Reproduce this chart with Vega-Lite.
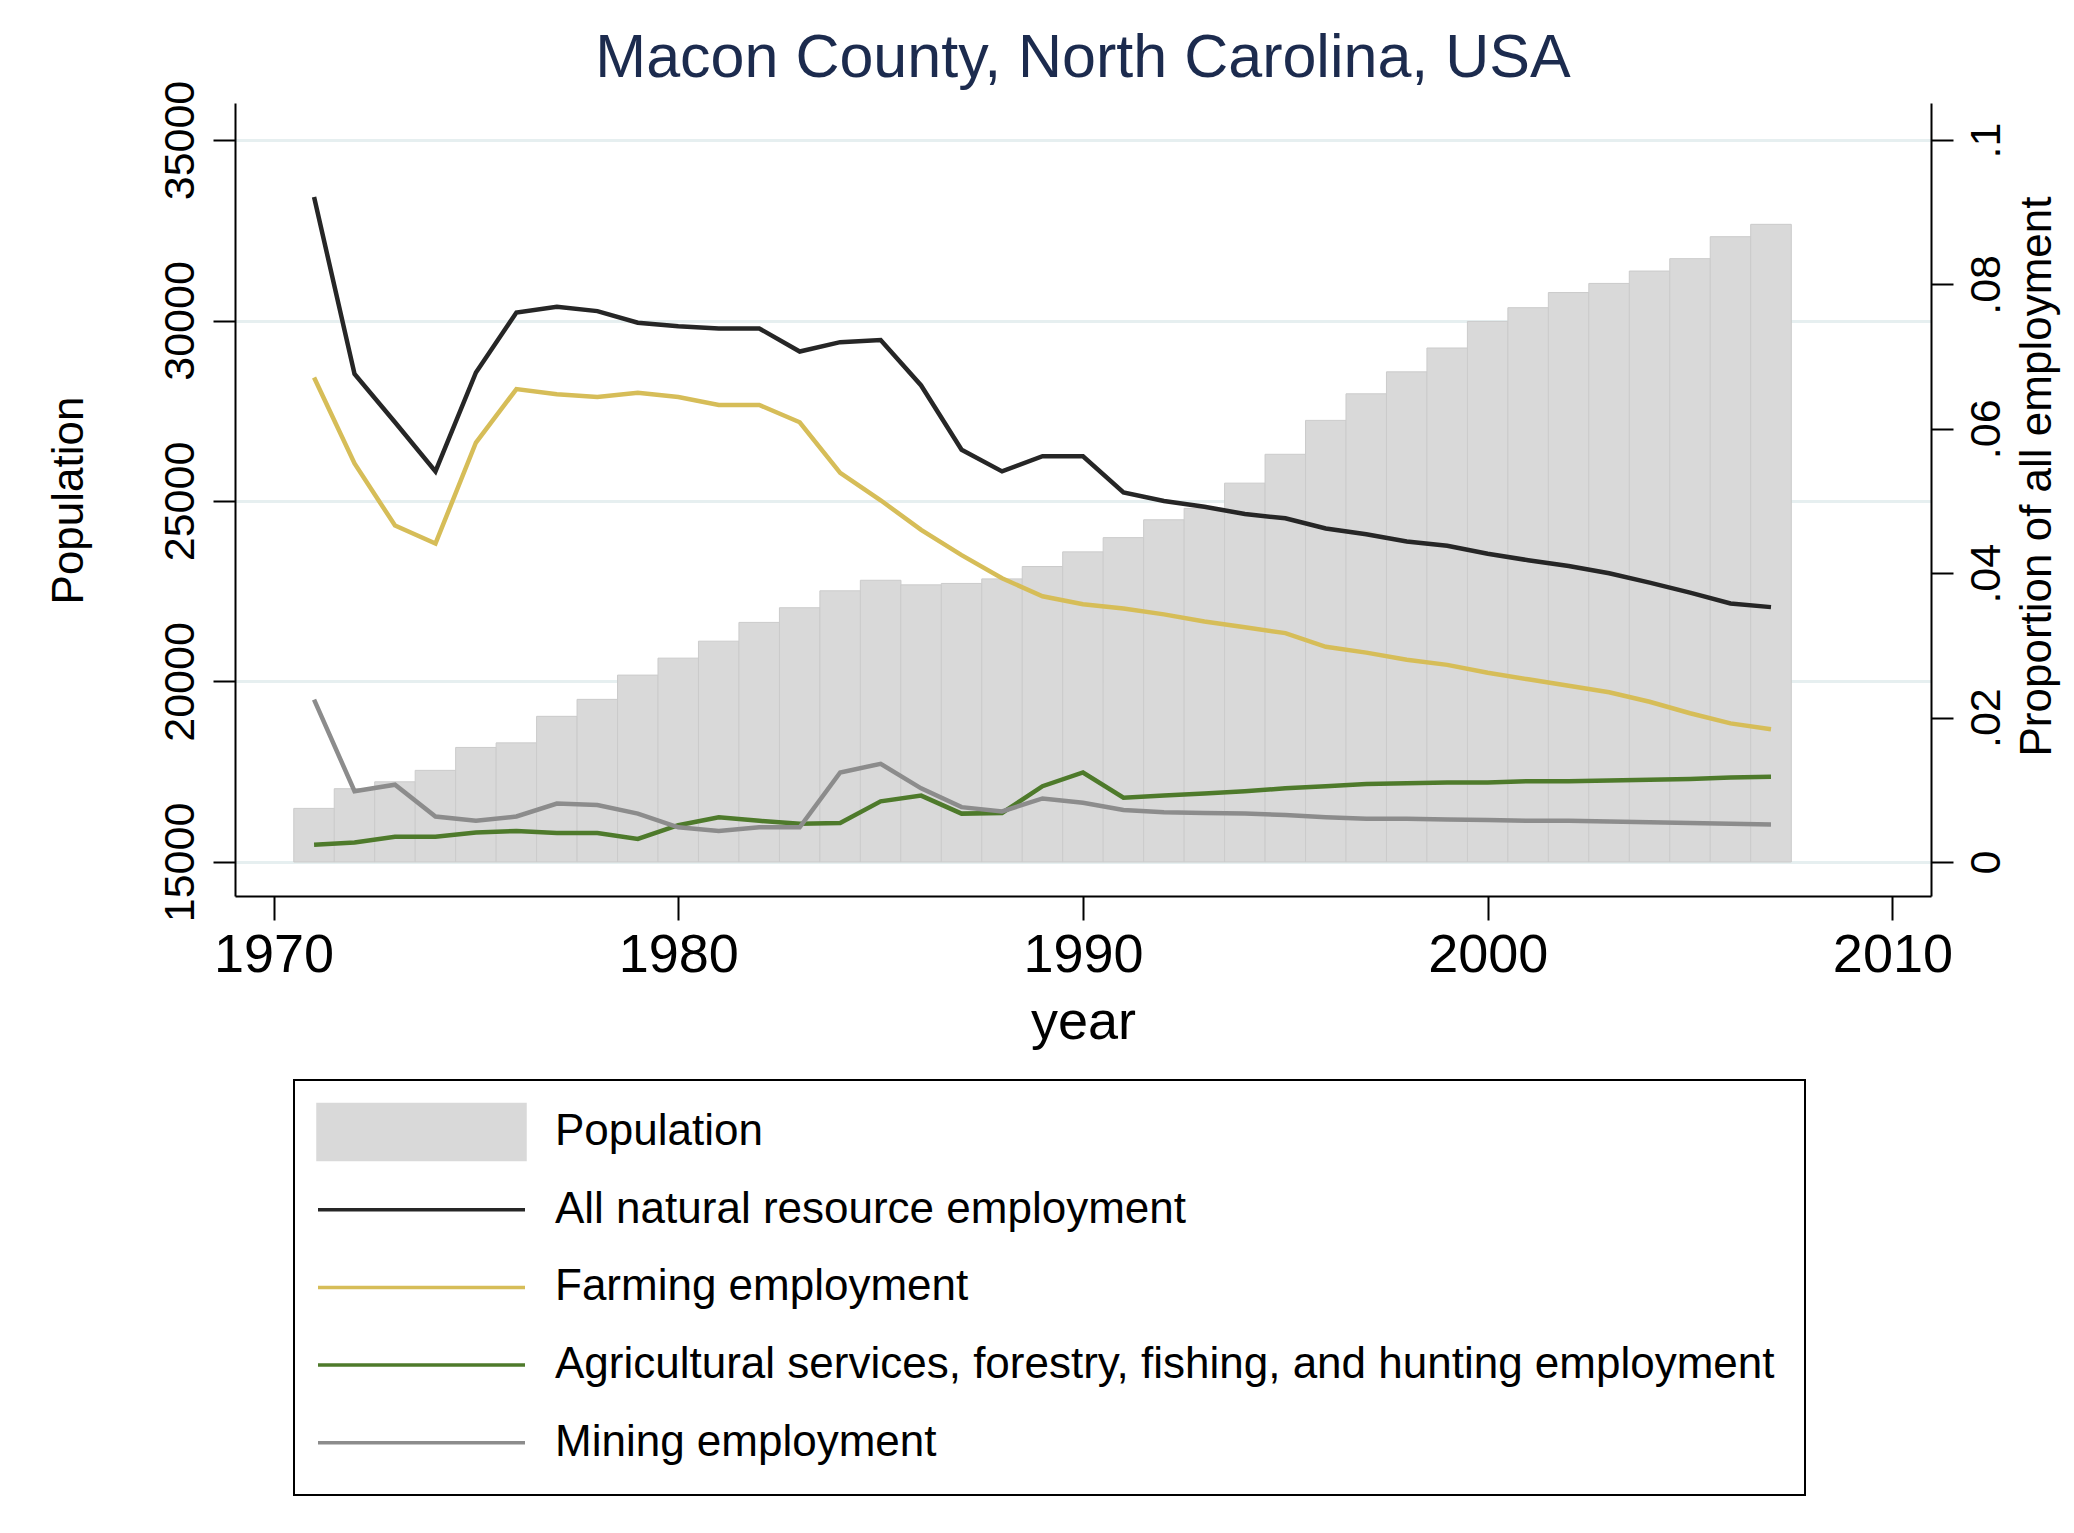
{
  "$schema": "https://vega.github.io/schema/vega-lite/v6.json",
  "autosize": {"type": "none"},
  "padding": {"left": 235, "top": 103, "right": 143, "bottom": 637},
  "width": 1696,
  "height": 793,
  "background": "white",
  "title": {
    "text": "Macon County, North Carolina, USA",
    "font": "Liberation Sans",
    "fontSize": 61,
    "fontWeight": "normal",
    "color": "#1c2b4e",
    "anchor": "middle",
    "frame": "group",
    "baseline": "alphabetic",
    "offset": 2,
    "dy": 60
  },
  "data": {
    "values": [
      {"year": 1971, "pop": 16485, "all": 0.0921, "farm": 0.0671, "ag": 0.0024, "mine": 0.0225},
      {"year": 1972, "pop": 17030, "all": 0.0676, "farm": 0.0552, "ag": 0.0027, "mine": 0.0098},
      {"year": 1973, "pop": 17221, "all": 0.0609, "farm": 0.0466, "ag": 0.0035, "mine": 0.0107},
      {"year": 1974, "pop": 17538, "all": 0.0541, "farm": 0.0441, "ag": 0.0035, "mine": 0.0063},
      {"year": 1975, "pop": 18173, "all": 0.0678, "farm": 0.0581, "ag": 0.0041, "mine": 0.0057},
      {"year": 1976, "pop": 18300, "all": 0.0761, "farm": 0.0655, "ag": 0.0043, "mine": 0.0063},
      {"year": 1977, "pop": 19035, "all": 0.0769, "farm": 0.0648, "ag": 0.0040, "mine": 0.0081},
      {"year": 1978, "pop": 19505, "all": 0.0763, "farm": 0.0644, "ag": 0.0040, "mine": 0.0079},
      {"year": 1979, "pop": 20177, "all": 0.0747, "farm": 0.0650, "ag": 0.0032, "mine": 0.0067},
      {"year": 1980, "pop": 20647, "all": 0.0742, "farm": 0.0644, "ag": 0.0051, "mine": 0.0048},
      {"year": 1981, "pop": 21117, "all": 0.0739, "farm": 0.0633, "ag": 0.0062, "mine": 0.0043},
      {"year": 1982, "pop": 21637, "all": 0.0739, "farm": 0.0633, "ag": 0.0057, "mine": 0.0048},
      {"year": 1983, "pop": 22043, "all": 0.0707, "farm": 0.0609, "ag": 0.0053, "mine": 0.0048},
      {"year": 1984, "pop": 22512, "all": 0.0720, "farm": 0.0539, "ag": 0.0054, "mine": 0.0124},
      {"year": 1985, "pop": 22804, "all": 0.0723, "farm": 0.0501, "ag": 0.0084, "mine": 0.0136},
      {"year": 1986, "pop": 22677, "all": 0.0660, "farm": 0.0460, "ag": 0.0092, "mine": 0.0102},
      {"year": 1987, "pop": 22716, "all": 0.0571, "farm": 0.0425, "ag": 0.0067, "mine": 0.0076},
      {"year": 1988, "pop": 22842, "all": 0.0541, "farm": 0.0393, "ag": 0.0068, "mine": 0.0070},
      {"year": 1989, "pop": 23185, "all": 0.0562, "farm": 0.0368, "ag": 0.0105, "mine": 0.0088},
      {"year": 1990, "pop": 23591, "all": 0.0562, "farm": 0.0357, "ag": 0.0124, "mine": 0.0082},
      {"year": 1991, "pop": 23985, "all": 0.0512, "farm": 0.0351, "ag": 0.0089, "mine": 0.0072},
      {"year": 1992, "pop": 24479, "all": 0.0500, "farm": 0.0343, "ag": 0.0092, "mine": 0.0069},
      {"year": 1993, "pop": 24797, "all": 0.0492, "farm": 0.0333, "ag": 0.0095, "mine": 0.0068},
      {"year": 1994, "pop": 25495, "all": 0.0482, "farm": 0.0325, "ag": 0.0098, "mine": 0.0067},
      {"year": 1995, "pop": 26294, "all": 0.0476, "farm": 0.0317, "ag": 0.0102, "mine": 0.0065},
      {"year": 1996, "pop": 27233, "all": 0.0462, "farm": 0.0298, "ag": 0.0105, "mine": 0.0062},
      {"year": 1997, "pop": 27969, "all": 0.0454, "farm": 0.0290, "ag": 0.0108, "mine": 0.0060},
      {"year": 1998, "pop": 28578, "all": 0.0444, "farm": 0.0280, "ag": 0.0109, "mine": 0.0060},
      {"year": 1999, "pop": 29238, "all": 0.0438, "farm": 0.0273, "ag": 0.0110, "mine": 0.0059},
      {"year": 2000, "pop": 29974, "all": 0.0427, "farm": 0.0262, "ag": 0.0110, "mine": 0.0058},
      {"year": 2001, "pop": 30355, "all": 0.0418, "farm": 0.0253, "ag": 0.0112, "mine": 0.0057},
      {"year": 2002, "pop": 30774, "all": 0.0410, "farm": 0.0244, "ag": 0.0112, "mine": 0.0057},
      {"year": 2003, "pop": 31027, "all": 0.0400, "farm": 0.0235, "ag": 0.0113, "mine": 0.0056},
      {"year": 2004, "pop": 31370, "all": 0.0387, "farm": 0.0222, "ag": 0.0114, "mine": 0.0055},
      {"year": 2005, "pop": 31713, "all": 0.0373, "farm": 0.0206, "ag": 0.0115, "mine": 0.0054},
      {"year": 2006, "pop": 32322, "all": 0.0358, "farm": 0.0192, "ag": 0.0117, "mine": 0.0053},
      {"year": 2007, "pop": 32664, "all": 0.0353, "farm": 0.0184, "ag": 0.0118, "mine": 0.0052}
    ]
  },
  "layer": [
    {
      "mark": {"type": "bar", "width": 40.6, "fill": "#d9d9d9", "stroke": "#cbcbcb", "strokeWidth": 1},
      "encoding": {
        "x": {
          "field": "year",
          "type": "quantitative",
          "scale": {"domain": [1969.17, 2010.83], "nice": false, "zero": false},
          "axis": {
            "values": [1970, 1980, 1990, 2000, 2010],
            "format": "d",
            "labelFontSize": 54,
            "labelBaseline": "top",
            "labelPadding": 8,
            "tickSize": 24,
            "title": "year",
            "titleFontSize": 54,
            "titleBaseline": "alphabetic",
            "titleY": 142
          }
        },
        "y": {
          "field": "pop",
          "type": "quantitative",
          "scale": {"domain": [14058, 36025], "nice": false, "zero": false},
          "axis": {
            "orient": "left",
            "values": [15000, 20000, 25000, 30000, 35000],
            "format": "d",
            "grid": true,
            "gridColor": "#e6eff0",
            "gridWidth": 3,
            "labelAngle": 270,
            "labelAlign": "center",
            "labelBaseline": "alphabetic",
            "labelPadding": 20,
            "labelFontSize": 43,
            "tickSize": 22,
            "title": "Population",
            "titleFontSize": 44,
            "titleAngle": 270,
            "titleAlign": "center",
            "titleBaseline": "alphabetic",
            "titleX": -153,
            "titleY": 397
          }
        },
        "y2": {"datum": 15000},
        "color": {
          "datum": "pop",
          "scale": {
            "domain": ["pop", "all", "farm", "ag", "mine"],
            "range": ["#d9d9d9", "#262626", "#d6bd58", "#4e7a2b", "#8c8c8c"]
          }
        }
      }
    },
    {
      "transform": [
        {"fold": ["all", "farm", "ag", "mine"], "as": ["series", "share"]}
      ],
      "mark": {"type": "line", "strokeWidth": 4.5},
      "encoding": {
        "x": {"field": "year", "type": "quantitative"},
        "y": {
          "field": "share",
          "type": "quantitative",
          "scale": {"domain": [-0.00471, 0.105125], "nice": false, "zero": false},
          "axis": {
            "orient": "right",
            "values": [0, 0.02, 0.04, 0.06, 0.08, 0.1],
            "labelExpr": "datum.value == 0 ? '0' : replace(format(datum.value, '.2~f'), '0.', '.')",
            "grid": false,
            "labelAngle": 270,
            "labelAlign": "center",
            "labelBaseline": "top",
            "labelPadding": 12,
            "labelFontSize": 43,
            "tickSize": 22,
            "title": "Proportion of all employment",
            "titleFontSize": 44,
            "titleAngle": 270,
            "titleAlign": "center",
            "titleBaseline": "alphabetic",
            "titleX": 119,
            "titleY": 373
          }
        },
        "color": {
          "field": "series",
          "type": "nominal",
          "scale": {
            "domain": ["pop", "all", "farm", "ag", "mine"],
            "range": ["#d9d9d9", "#262626", "#d6bd58", "#4e7a2b", "#8c8c8c"]
          },
          "legend": {
            "orient": "none",
            "legendX": 59,
            "legendY": 977,
            "direction": "vertical",
            "title": null,
            "values": ["pop", "all", "farm", "ag", "mine"],
            "labelExpr": "datum.value == 'pop' ? 'Population' : datum.value == 'all' ? 'All natural resource employment' : datum.value == 'farm' ? 'Farming employment' : datum.value == 'ag' ? 'Agricultural services, forestry, fishing, and hunting employment\u00a0\u00a0\u00a0\u00a0\u00a0' : 'Mining employment'",
            "symbolType": "stroke",
            "symbolSize": 100,
            "symbolStrokeWidth": 3.5,
            "symbolOffset": 75.5,
            "labelFontSize": 44,
            "labelColor": "#000000",
            "labelOffset": 111.5,
            "labelLimit": 0,
            "labelBaseline": "middle",
            "padding": 30,
            "rowPadding": 20.7,
            "gridAlign": "all",
            "strokeColor": "#000000",
            "encode": {
              "legend": {"update": {"strokeWidth": {"value": 2}}},
              "symbols": {
                "update": {
                  "shape": {"signal": "datum.value == 'pop' ? 'M-20.7,-5.5H20.7V5.5H-20.7Z' : 'M-20.7,0H20.7'"},
                  "size": {"value": 100},
                  "fill": {"signal": "datum.value == 'pop' ? '#d9d9d9' : 'transparent'"},
                  "stroke": {"signal": "datum.value == 'pop' ? 'transparent' : scale('color', datum.value)"},
                  "strokeWidth": {"value": 3.5},
                  "opacity": {"value": 1}
                }
              }
            }
          }
        }
      }
    }
  ],
  "resolve": {"scale": {"y": "independent"}, "axis": {"y": "independent"}},
  "config": {
    "font": "Liberation Sans",
    "view": {"stroke": null},
    "axis": {
      "grid": false,
      "domainColor": "#000000",
      "domainWidth": 2,
      "tickColor": "#000000",
      "tickWidth": 2,
      "labelColor": "#000000",
      "titleColor": "#000000",
      "titleFontWeight": "normal",
      "labelFont": "Liberation Sans",
      "titleFont": "Liberation Sans"
    }
  }
}
